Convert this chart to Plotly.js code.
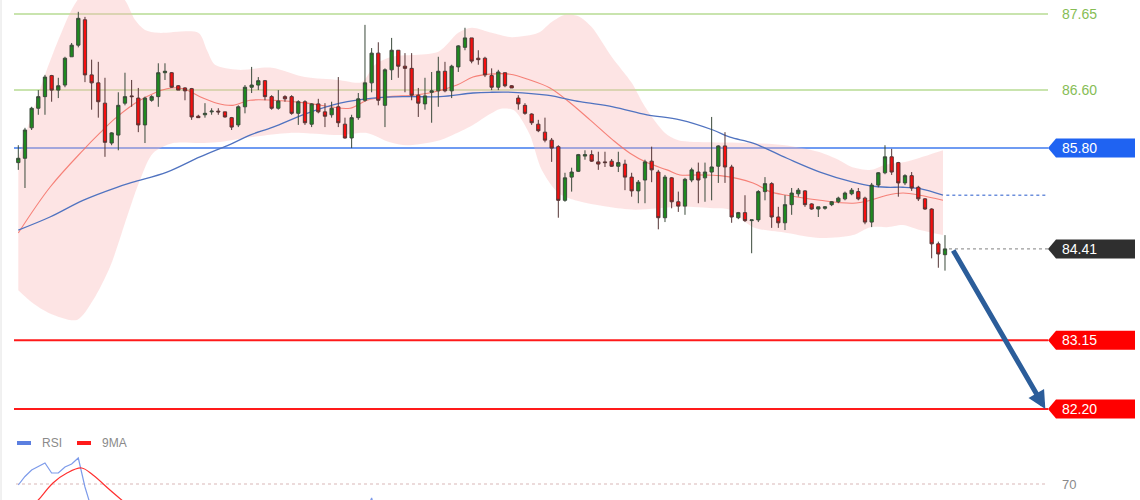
<!DOCTYPE html>
<html>
<head>
<meta charset="utf-8">
<script src="https://cdn.plot.ly/plotly-3.0.1.min.js"></script>
<style>
  html, body { margin: 0; padding: 0; background: #ffffff; }
  #chart { width: 1140px; height: 500px; }
</style>
</head>
<body>
<div id="chart"></div>
<script>
// ---------------- DATA ----------------
const open = [
  85.60,85.66,86.08,86.35,86.51,86.80,86.60,86.67,87.06,87.22,
  87.57,86.81,86.70,86.42,85.87,85.98,86.42,86.52,86.49,86.12,
  86.46,86.51,86.84,86.84,86.66,86.63,86.62,86.24,86.26,86.30,
  86.31,86.30,86.22,86.12,86.37,86.64,86.67,86.73,86.51,86.35,
  86.51,86.51,86.28,86.44,86.13,86.41,86.30,86.26,86.37,86.13,
  85.94,86.22,86.46,86.70,87.11,86.39,86.88,87.15,86.93,86.90,
  86.53,86.41,86.57,86.59,86.86,86.59,86.92,87.19,87.32,87.04,
  87.04,86.80,86.64,86.84,86.66,86.49,86.39,86.27,86.13,86.02,
  85.91,85.82,85.08,85.40,85.48,85.69,85.71,85.61,85.61,85.62,
  85.55,85.58,85.40,85.21,85.36,85.62,85.47,84.84,85.39,85.06,
  85.00,85.36,85.47,85.39,85.47,85.55,85.83,85.54,84.84,84.91,
  84.80,84.81,85.20,85.31,84.85,84.77,85.02,85.17,85.21,85.03,
  84.96,84.97,85.02,85.06,85.10,85.17,85.20,85.11,84.78,85.29,
  85.46,85.68,85.60,85.32,85.42,85.26,85.10,84.96,84.48,84.33];
const high = [
  85.84,86.08,86.37,86.60,86.81,86.81,86.77,87.06,87.25,87.68,
  87.61,87.02,86.99,86.77,86.02,86.57,86.84,86.74,86.63,86.51,
  86.53,86.97,86.97,86.85,86.67,86.64,86.63,86.26,86.42,86.35,
  86.35,86.30,86.23,86.39,86.67,86.92,86.78,86.74,86.53,86.60,
  86.53,86.53,86.46,86.46,86.42,86.48,86.42,86.44,86.78,86.22,
  86.26,86.56,87.50,87.18,87.26,86.90,87.32,87.15,87.11,87.11,
  86.63,86.77,86.85,87.06,86.99,86.95,87.22,87.46,87.32,87.15,
  87.06,86.90,86.88,86.84,86.67,86.53,86.42,86.28,86.19,86.22,
  85.94,85.84,85.46,85.53,85.72,85.77,85.77,85.75,85.75,85.65,
  85.75,85.64,85.46,85.36,85.64,85.82,85.50,85.43,85.40,85.20,
  85.39,85.53,85.60,85.60,86.23,85.84,86.02,85.57,84.92,85.15,
  84.81,85.22,85.40,85.33,84.99,85.15,85.25,85.25,85.22,85.04,
  84.99,85.00,85.07,85.13,85.20,85.25,85.25,85.13,85.32,85.47,
  85.84,85.79,85.61,85.44,85.47,85.28,85.11,84.97,84.51,84.60];
const low = [
  85.50,85.25,86.05,86.26,86.26,86.44,86.49,86.64,87.06,87.19,
  86.71,86.33,86.22,85.68,85.84,85.77,86.39,86.37,86.02,85.87,
  86.44,86.37,86.74,86.63,86.60,86.46,86.19,86.22,86.22,86.26,
  86.26,86.22,86.05,86.09,86.28,86.56,86.60,86.46,86.33,86.33,
  86.44,86.26,86.12,86.12,86.09,86.28,86.09,86.22,86.09,85.93,
  85.80,86.19,86.44,86.57,86.39,86.09,86.74,86.77,86.57,86.46,
  86.23,86.33,86.15,86.37,86.57,86.49,86.85,87.15,86.97,86.95,
  86.78,86.60,86.60,86.64,86.63,86.33,86.26,86.12,86.02,85.88,
  85.61,84.84,85.06,85.20,85.47,85.64,85.61,85.50,85.54,85.54,
  85.47,85.22,85.13,85.04,85.04,85.33,84.68,84.78,84.97,84.92,
  84.88,85.33,85.04,85.06,85.08,85.32,85.32,84.77,84.82,84.78,
  84.35,84.78,85.08,84.70,84.70,84.67,84.88,85.13,84.99,84.95,
  84.85,84.95,85.00,85.04,85.08,85.15,85.08,84.75,84.71,85.26,
  85.44,85.43,85.13,85.29,85.21,85.07,84.95,84.28,84.15,84.11];
const close = [
  85.66,86.05,86.35,86.51,86.78,86.60,86.66,87.04,87.22,87.59,
  86.81,86.70,86.44,85.88,86.01,86.39,86.51,86.51,86.12,86.49,
  86.51,86.84,86.86,86.64,86.60,86.59,86.23,86.22,86.28,86.31,
  86.30,86.23,86.09,86.37,86.64,86.67,86.73,86.51,86.35,86.45,
  86.48,86.28,86.44,86.15,86.41,86.30,86.24,86.35,86.15,85.94,
  86.22,86.48,86.70,87.11,86.46,86.88,87.15,86.93,86.90,86.53,
  86.42,86.52,86.59,86.86,86.59,86.93,87.21,87.32,87.00,87.02,
  86.81,86.64,86.85,86.66,86.63,86.41,86.28,86.15,86.04,85.91,
  85.80,85.08,85.39,85.47,85.71,85.71,85.62,85.58,85.60,85.55,
  85.60,85.40,85.21,85.33,85.61,85.50,84.84,85.40,85.06,85.00,
  85.37,85.50,85.36,85.47,85.54,85.83,85.54,84.85,84.91,84.80,
  84.81,85.20,85.31,84.85,84.77,85.02,85.18,85.22,85.02,84.96,
  84.99,84.99,85.06,85.11,85.18,85.22,85.10,84.78,85.29,85.46,
  85.68,85.47,85.32,85.42,85.25,85.10,84.96,84.48,84.34,84.41];

// Bollinger band edges (at these bar positions)
const bbUpperX = [0,2,4,6,8,10,12,14.5,16,17.5,19,21,27,28.3,29.5,33,38,43,48,51.5,53.5,56,63,66,68,71,74,78,80,82,84,86,89,92,94,97,99,104,110,115,120,123,125,128,130,133,135,138.7];
const bbUpper  = [85.66,86.26,86.81,87.29,87.71,87.98,88.12,87.95,87.84,87.57,87.43,87.39,87.39,87.15,86.95,86.88,86.91,86.78,86.74,86.71,86.95,87.06,87.13,87.39,87.46,87.39,87.33,87.39,87.54,87.64,87.62,87.47,87.06,86.70,86.37,86.01,85.91,85.88,85.87,85.84,85.75,85.64,85.54,85.50,85.57,85.61,85.66,85.77];
const bbLowerX = [0,2.2,4.75,8.8,11.2,13.75,16.3,18.25,20.2,23.2,27.25,29.8,34.75,40.75,48.25,52.3,55.75,58.3,63.25,65.8,68.2,70.75,72.25,74.2,75,76.75,78.5,81,83.5,88.45,92.5,99.25,104.2,106.75,110.2,115.3,120.25,125.2,127.8,130.3,132.7,135.25,138.7];
const bbLower  = [83.84,83.66,83.52,83.43,83.70,84.16,84.85,85.36,85.73,85.87,85.87,85.88,85.95,86.01,85.98,86.01,85.88,85.84,85.91,86.01,86.12,86.27,86.34,86.33,86.26,85.98,85.50,85.18,85.08,84.99,84.95,84.99,84.97,84.95,84.71,84.63,84.56,84.60,84.71,84.71,84.74,84.67,84.60];
// middle band (red) and long moving average (blue)
const midX = [0,4.75,9.7,12.25,14.8,18.25,22.3,24.7,27.25,29.8,32.2,34.75,38.2,43.3,46.75,49.75,52.3,55.75,59.2,62.2,65.8,68.2,70.75,73.75,76.75,79.75,82.3,85.75,89.2,91.75,94.3,97.3,99.25,101.8,105.25,110.2,112.75,115.3,120.25,125.2,127.8,130.3,132.7,135.25,138.7];
const midMA = [84.63,85.26,85.77,86.01,86.23,86.46,86.62,86.62,86.51,86.42,86.39,86.46,86.46,86.42,86.37,86.35,86.46,86.51,86.53,86.57,86.67,86.78,86.82,86.82,86.74,86.63,86.46,86.19,85.91,85.73,85.60,85.50,85.43,85.43,85.42,85.32,85.20,85.15,85.08,85.04,85.08,85.15,85.18,85.15,85.08];
const longX = [0,4.75,9.7,14.8,17.2,22.3,27.25,32.2,34.75,38.2,43.3,48.25,53.2,58.3,63.25,68.2,70.75,74.2,79.3,84.25,89.2,94.3,99.25,104.2,106.75,110.2,115.3,120.25,125.2,127.8,130.3,132.7,135.25,138.7];
const longMA = [84.67,84.85,85.08,85.26,85.33,85.47,85.68,85.87,85.98,86.09,86.28,86.42,86.49,86.51,86.51,86.56,86.57,86.57,86.53,86.44,86.37,86.26,86.19,86.05,85.95,85.87,85.66,85.47,85.33,85.28,85.26,85.26,85.24,85.15];

// RSI panel (only the top of it is inside the picture)
const rsiX   = [0,1,2,3,4,5,6,7,8,9,10,11,12,13,14,15,16,18,20,25,30,35,40,45,50,52,53,54,56,60,65,67,70,75,80,85,90,95,100,105,110,115,120,125,130,135,139];
const rsiVal = [69.6,73.0,75.6,77.0,78.4,74.4,74.4,76.8,78.0,80.4,68.8,60.0,55.0,45.0,48.0,53.0,55.0,50.0,53.0,55.0,50.0,56.0,52.0,50.0,46.0,58.0,64.4,55.0,61.0,54.0,60.0,62.0,55.0,45.0,38.0,42.0,42.0,43.0,42.0,50.0,38.0,42.0,41.0,44.0,52.0,44.0,33.0];
const ma9X   = [0,2,3,5.2,7.3,9.5,11.2,13.75,15.5,18,22,30,40,50,60,70,80,90,100,110,120,130,139];
const ma9Val = [56.0,61.0,63.6,70.4,74.4,76.4,73.6,67.6,63.6,58.0,54.0,53.0,52.0,51.0,57.0,57.0,47.0,41.0,43.0,44.0,42.0,46.0,43.0];
const rsiLevel = 70;

// price levels
const resistLevels = [87.65, 86.60];
const pivotLevel   = 85.80;
const supportLevels = [83.15, 82.20];
const lastPrice = close[close.length - 1];

// ---------------- GEOMETRY / STYLE ----------------
const bars = close.map((_, i) => i);
const X_LEFT = -0.645, X_RIGHT = 168.25;
const LINE_END = 154.45, TAG_START = 155.65, TAG_END = 167.5, TEXT_X = 156.3;
const TAG_H = 0.131;
const PRICE_RANGE = [81.912, 87.843];
const FONT = 'Liberation Sans, Arial, sans-serif';

const shapes = [];
const annotations = [];

function hline(y, color, width, dash, x0) {
  shapes.push({type: 'line', xref: 'x', yref: 'y', x0: (x0 === undefined ? X_LEFT : x0), x1: LINE_END,
    y0: y, y1: y, line: {color: color, width: width, dash: dash || 'solid'}, layer: 'below'});
}
function tag(y, color) {
  const p = `M ${LINE_END} ${y} L ${TAG_START} ${y + TAG_H} L ${TAG_END} ${y + TAG_H} L ${TAG_END} ${y - TAG_H} L ${TAG_START} ${y - TAG_H} Z`;
  shapes.push({type: 'path', xref: 'x', yref: 'y', path: p, fillcolor: color, line: {width: 0}, layer: 'above'});
  annotations.push({x: TEXT_X, y: y, xref: 'x', yref: 'y', xanchor: 'left', yanchor: 'middle', showarrow: false,
    text: y.toFixed(2), font: {family: FONT, size: 14, color: '#ffffff'}});
}

resistLevels.forEach(v => {
  hline(v, '#c9e4ae', 2);
  annotations.push({x: TEXT_X, y: v, xref: 'x', yref: 'y', xanchor: 'left', yanchor: 'middle', showarrow: false,
    text: v.toFixed(2), font: {family: FONT, size: 14, color: '#86bd55'}});
});
hline(pivotLevel, '#6f9bf2', 2); tag(pivotLevel, '#1f63f2');
supportLevels.forEach(v => { hline(v, '#ff1a1a', 2); tag(v, '#ff0000'); });
// dotted continuations
hline(longMA[longMA.length - 1], '#6d8fdc', 1.3, 'dot', bars[bars.length - 1] + 0.2);
hline(lastPrice, '#9a9a9a', 1.3, 'dot', bars[bars.length - 1] + 0.6);
tag(lastPrice, '#2f2f2f');

// RSI 70 level
shapes.push({type: 'line', xref: 'x', yref: 'y2', x0: X_LEFT + 0.3, x1: LINE_END - 0.3, y0: rsiLevel, y1: rsiLevel,
  line: {color: '#d9b8b8', width: 1.2, dash: 'dot'}, layer: 'below'});
annotations.push({x: TEXT_X, y: rsiLevel, xref: 'x', yref: 'y2', xanchor: 'left', yanchor: 'middle', showarrow: false,
  text: String(rsiLevel), font: {family: FONT, size: 13, color: '#8a8a8a'}});

// RSI legend
const PW = 1126, PH = 500;
const px = p => (p - 14) / PW, py = p => 1 - p / PH;
shapes.push({type: 'rect', xref: 'paper', yref: 'paper', x0: px(17), x1: px(31), y0: py(441), y1: py(445), fillcolor: '#5b7fe0', line: {width: 0}});
shapes.push({type: 'rect', xref: 'paper', yref: 'paper', x0: px(77), x1: px(91), y0: py(441), y1: py(445), fillcolor: '#ff1a1a', line: {width: 0}});
annotations.push({x: px(40), y: py(443), xref: 'paper', yref: 'paper', xanchor: 'left', yanchor: 'middle', showarrow: false,
  text: 'RSI', font: {family: FONT, size: 12, color: '#8a8a8a'}});
annotations.push({x: px(100), y: py(443), xref: 'paper', yref: 'paper', xanchor: 'left', yanchor: 'middle', showarrow: false,
  text: '9MA', font: {family: FONT, size: 12, color: '#8a8a8a'}});
// left frame line
shapes.push({type: 'line', xref: 'paper', yref: 'paper', x0: px(1), x1: px(1), y0: 0, y1: 1, line: {color: '#e2e2e2', width: 1}});

// projection arrow: from last close to the lower support
annotations.push({x: LINE_END - 0.4, y: supportLevels[1], ax: bars[bars.length - 1] + 1.1, ay: lastPrice,
  xref: 'x', yref: 'y', axref: 'x', ayref: 'y', text: '', showarrow: true,
  arrowhead: 2, arrowsize: 0.72, arrowwidth: 5, arrowcolor: '#2b5d9a', standoff: 0, startstandoff: 0});

const traces = [
  {x: bbLowerX, y: bbLower, type: 'scatter', mode: 'lines', line: {width: 0, shape: 'spline', smoothing: 0.8}, hoverinfo: 'skip', showlegend: false},
  {x: bbUpperX, y: bbUpper, type: 'scatter', mode: 'lines', line: {width: 0, shape: 'spline', smoothing: 0.8}, fill: 'tonexty',
   fillcolor: 'rgba(250,185,185,0.38)', hoverinfo: 'skip', showlegend: false},
  {x: midX, y: midMA, type: 'scatter', mode: 'lines', line: {color: 'rgba(245,110,100,0.85)', width: 1.1, shape: 'spline'}, showlegend: false},
  {x: longX, y: longMA, type: 'scatter', mode: 'lines', line: {color: '#5073c0', width: 1.3, shape: 'spline'}, showlegend: false},
  // candles live on an overlaying axis so they are painted above the band fill
  {x: bars, open: open, high: high, low: low, close: close, type: 'candlestick', yaxis: 'y3', showlegend: false,
   increasing: {line: {color: '#3b4a3b', width: 1}, fillcolor: '#1f8a1f'},
   decreasing: {line: {color: '#553535', width: 1}, fillcolor: '#f50f0f'}},
  {x: rsiX, y: rsiVal, type: 'scatter', mode: 'lines', yaxis: 'y2', line: {color: '#7d9bea', width: 1.2}, showlegend: false},
  {x: ma9X, y: ma9Val, type: 'scatter', mode: 'lines', yaxis: 'y2', line: {color: '#ff3030', width: 1.2, shape: 'spline'}, showlegend: false}
];

const axisOff = {showgrid: false, zeroline: false, showticklabels: false, ticks: '', showline: false, fixedrange: true};
const layout = {
  width: 1140, height: 500,
  margin: {l: 14, r: 0, t: 0, b: 0},
  paper_bgcolor: '#ffffff', plot_bgcolor: 'rgba(0,0,0,0)',
  showlegend: false,
  xaxis: Object.assign({range: [X_LEFT, X_RIGHT], rangeslider: {visible: false}}, axisOff),
  yaxis: Object.assign({domain: [0.14, 1], range: PRICE_RANGE}, axisOff),
  yaxis2: Object.assign({domain: [0, 0.14], range: [63.6, 91.6]}, axisOff),
  yaxis3: Object.assign({overlaying: 'y', range: PRICE_RANGE}, axisOff),
  shapes: shapes,
  annotations: annotations,
  boxgap: 0.3
};

Plotly.newPlot('chart', traces, layout, {staticPlot: true, displayModeBar: false});
</script>
</body>
</html>
